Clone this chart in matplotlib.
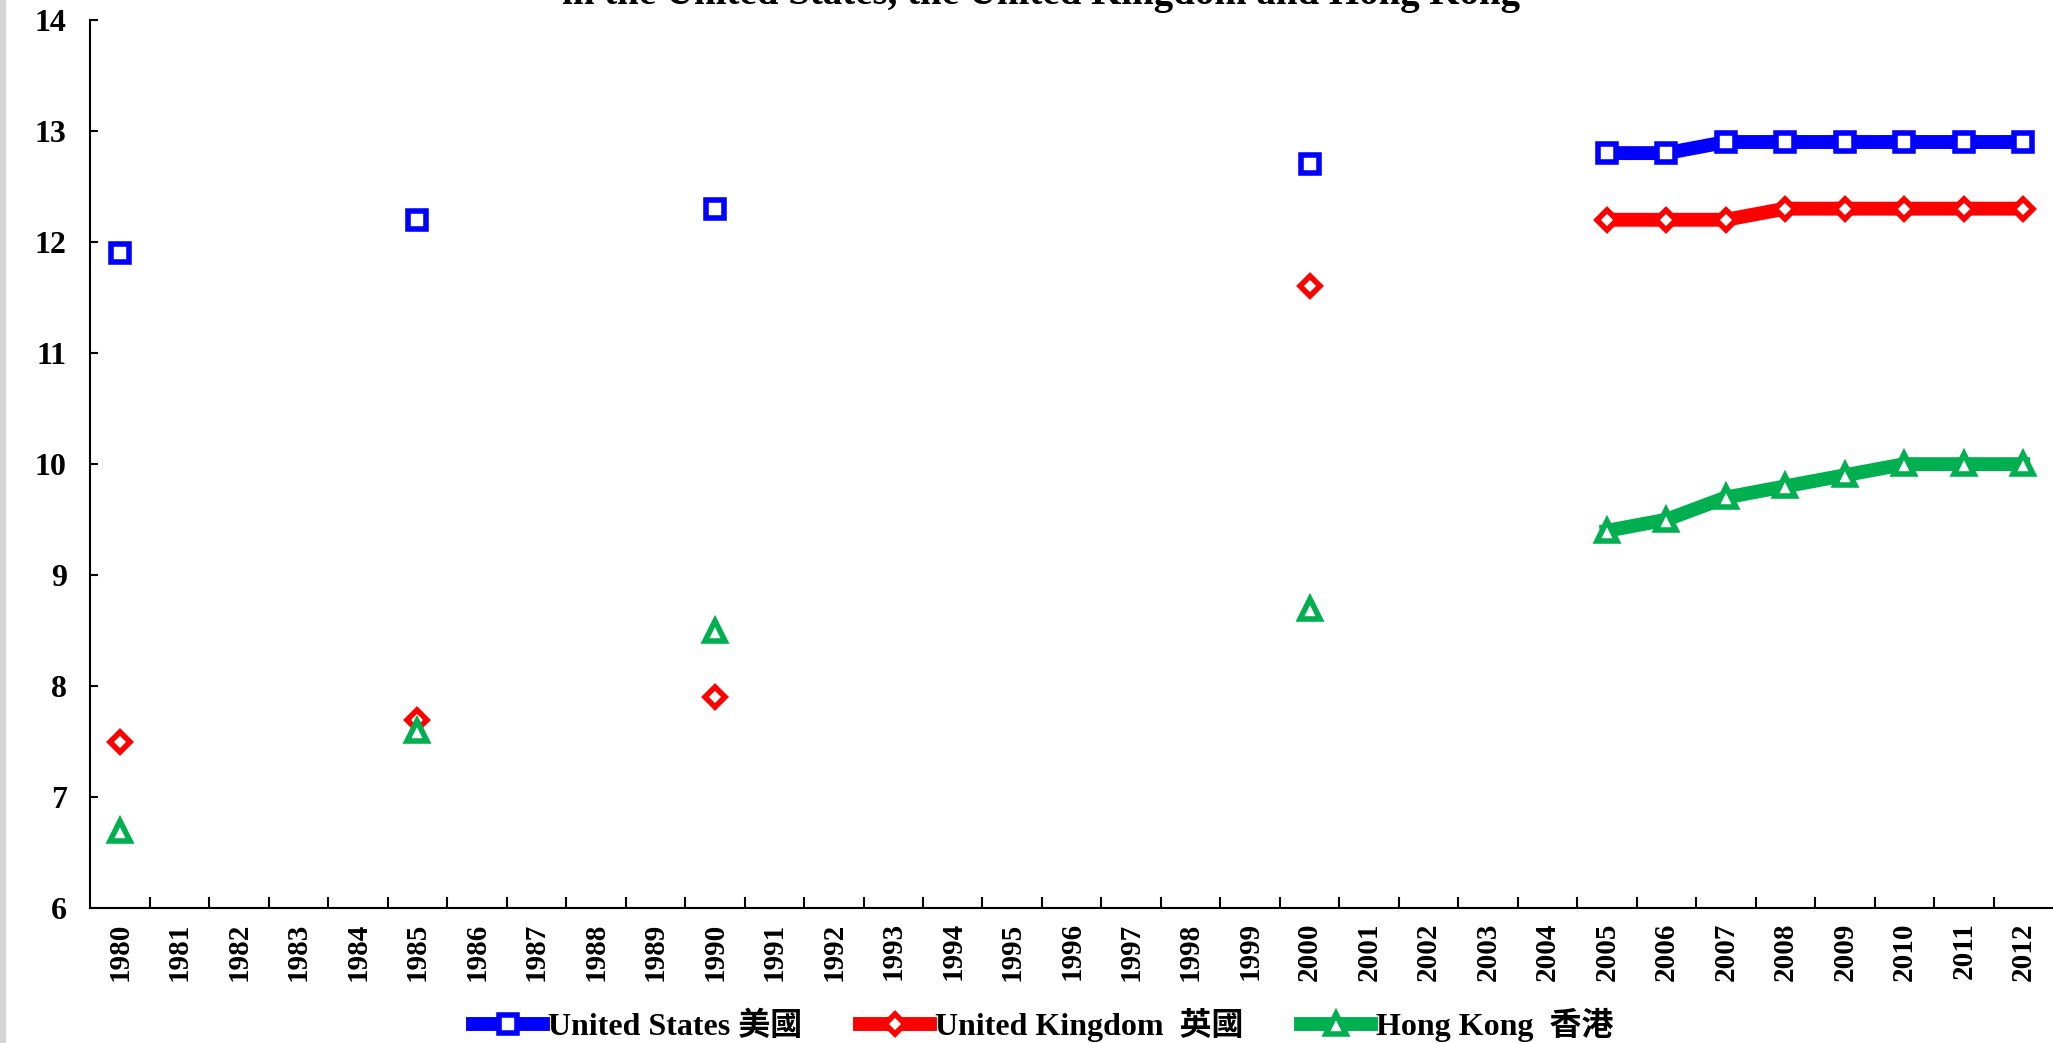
import numpy as np
from matplotlib import pyplot as plt
from matplotlib.patches import Rectangle

# years on the category axis
years = [str(y) for y in range(1980, 2013)]

# values per year, NaN where no figure was published
nan = np.nan
us = [11.9, nan, nan, nan, nan, 12.2, nan, nan, nan, nan, 12.3,
      nan, nan, nan, nan, nan, nan, nan, nan, nan, 12.7,
      nan, nan, nan, nan, 12.8, 12.8, 12.9, 12.9, 12.9, 12.9, 12.9, 12.9]
uk = [7.5, nan, nan, nan, nan, 7.7, nan, nan, nan, nan, 7.9,
      nan, nan, nan, nan, nan, nan, nan, nan, nan, 11.6,
      nan, nan, nan, nan, 12.2, 12.2, 12.2, 12.3, 12.3, 12.3, 12.3, 12.3]
hk = [6.7, nan, nan, nan, nan, 7.6, nan, nan, nan, nan, 8.5,
      nan, nan, nan, nan, nan, nan, nan, nan, nan, 8.7,
      nan, nan, nan, nan, 9.4, 9.5, 9.7, 9.8, 9.9, 10.0, 10.0, 10.0]

labels = ['United States 美國', 'United Kingdom  英國', 'Hong Kong  香港']
title = 'in the United States, the United Kingdom and Hong Kong'

plt.rcParams['font.family'] = ['Liberation Serif', 'Noto Sans CJK TC']
plt.rcParams['font.weight'] = 'bold'

fig = plt.figure(figsize=(20.53, 10.43), dpi=100)
ax = fig.add_axes([0.044, 0.129, 0.956, 0.852])

x = np.arange(len(years))
styles = [(us, '#0000FF', 's', 13), (uk, '#FF0000', 'D', 10.5), (hk, '#00B050', '^', 14)]
for (vals, col, mk, ms), lab in zip(styles, labels):
    ax.plot(x, vals, color=col, linewidth=10, marker=mk, markersize=ms,
            markerfacecolor='white', markeredgecolor=col, markeredgewidth=4,
            solid_joinstyle='round', label=lab)

ax.set_xlim(-0.5, len(years) - 0.5)
ax.set_ylim(6, 14)
ax.set_yticks(range(6, 15))
ax.tick_params(axis='y', direction='in', length=6, width=1.5, pad=17, labelsize=23)

# tick marks sit between categories, labels at the categories
ax.set_xticks(x[:-1] + 0.5)
ax.set_xticklabels([])
ax.tick_params(axis='x', which='major', direction='in', length=8, width=1.5)
ax.set_xticks(x, minor=True)
ax.set_xticklabels(years, minor=True, rotation=90, fontsize=21, fontweight='bold')
ax.tick_params(axis='x', which='minor', length=0, pad=10)
for t in ax.get_yticklabels():
    t.set_fontweight('bold')

for s in ['top', 'right']:
    ax.spines[s].set_visible(False)
for s in ['left', 'bottom']:
    ax.spines[s].set_linewidth(1.5)

fig.text(0.507, 0.996, title, ha='center', va='baseline', fontsize=28, fontweight='bold')

fig.legend(loc='center', bbox_to_anchor=(0.508, 0.017), ncol=3, frameon=False,
           prop={'size': 23, 'weight': 'bold'}, handlelength=2.2, handletextpad=0.15,
           columnspacing=1.8, borderpad=0)

fig.patches.append(Rectangle((0, 0), 0.0025, 1, transform=fig.transFigure,
                             color='#d4d4d4', zorder=0))

plt.savefig('out.png', dpi=100)
